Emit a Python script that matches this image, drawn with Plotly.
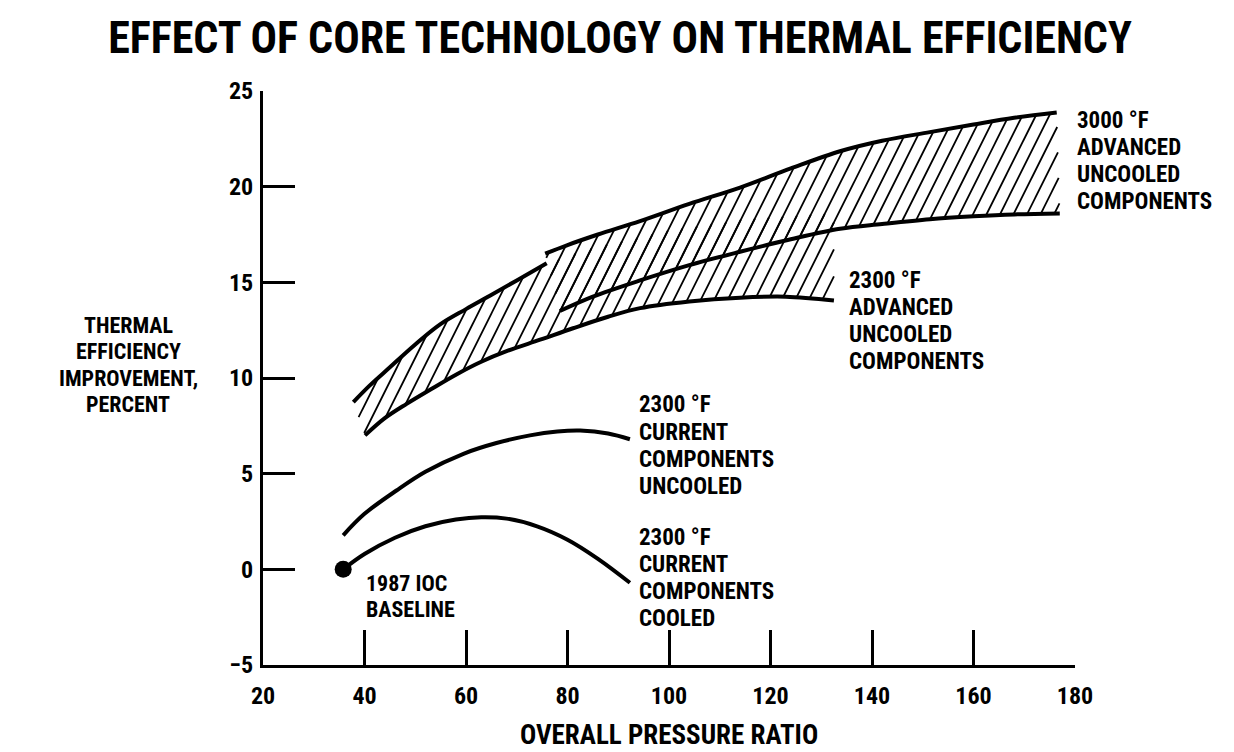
import numpy as np
import plotly.graph_objects as go

# ---------------- data ----------------
# 2300 F current components, cooled
cooled_x = [35.8, 40, 46, 52, 58, 63, 68, 74, 80, 86, 92.3]
cooled_y = [0.0, 0.8, 1.65, 2.25, 2.6, 2.72, 2.65, 2.25, 1.55, 0.55, -0.7]

# 2300 F current components, uncooled
uncooled_x = [35.8, 40, 46.3, 52, 59.5, 66, 72.6, 78, 82.5, 88, 92.3]
uncooled_y = [1.78, 2.9, 4.12, 5.1, 6.04, 6.6, 7.0, 7.2, 7.25, 7.1, 6.8]

# 2300 F advanced uncooled components band
adv2300_up_x = [37.8, 41, 45, 50, 54.9, 60, 64.7, 70, 75.9, 85, 100, 115, 132.5]
adv2300_up_y = [8.74, 9.6, 10.56, 11.75, 12.8, 13.6, 14.3, 15.1, 16.0, 16.8, 17.7, 18.3, 18.6]
adv2300_up_visible_to = 75.9
adv2300_lo_x = [40.1, 44, 48.3, 53, 58.2, 63, 68, 74.6, 81.1, 88, 94.3, 104, 114, 123, 132.5]
adv2300_lo_y = [7.0, 7.9, 8.65, 9.4, 10.2, 10.85, 11.4, 12.0, 12.6, 13.2, 13.65, 14.0, 14.2, 14.25, 14.05]

# 3000 F advanced uncooled components band
adv3000_up_x = [75.6, 80, 86, 94.3, 104, 114, 124, 133.7, 142, 151.4, 160, 168, 176.4]
adv3000_up_y = [16.5, 16.95, 17.5, 18.2, 19.1, 19.95, 20.95, 21.85, 22.4, 22.85, 23.25, 23.6, 23.88]
adv3000_lo_x = [78.5, 85, 94.3, 104, 114, 124, 133.7, 142, 151.4, 160, 168, 177]
adv3000_lo_y = [13.5, 14.25, 15.1, 15.9, 16.6, 17.25, 17.8, 18.05, 18.3, 18.45, 18.55, 18.6]

# 1987 IOC baseline point
baseline_x = [35.8]
baseline_y = [0.0]

# axes
x_ticks = [20, 40, 60, 80, 100, 120, 140, 160, 180]
y_ticks = [-5, 0, 5, 10, 15, 20, 25]
x_range = [20, 180]
y_range = [-5, 25]

# texts
title_text = "EFFECT OF CORE TECHNOLOGY ON THERMAL EFFICIENCY"
x_title = "OVERALL PRESSURE RATIO"
y_title_lines = ["THERMAL", "EFFICIENCY", "IMPROVEMENT,", "PERCENT"]
lbl_3000 = ["3000 °F", "ADVANCED", "UNCOOLED", "COMPONENTS"]
lbl_2300_adv = ["2300 °F", "ADVANCED", "UNCOOLED", "COMPONENTS"]
lbl_2300_unc = ["2300 °F", "CURRENT", "COMPONENTS", "UNCOOLED"]
lbl_2300_cool = ["2300 °F", "CURRENT", "COMPONENTS", "COOLED"]
lbl_base = ["1987 IOC", "BASELINE"]

# ---------------- layout geometry ----------------
W, H = 1234, 752
ML, MR, MT, MB = 263, 159, 91, 87
PW, PH = W - ML - MR, H - MT - MB
FONT = "Roboto Condensed, Roboto, Liberation Sans, sans-serif"


def px2paper_x(px):
    return (px - ML) / PW


def px2paper_y(py):
    return (H - MB - py) / PH


# ---------------- hatch computation ----------------
px_per_x = PW / (x_range[1] - x_range[0])
px_per_y = PH / (y_range[1] - y_range[0])
HATCH_PX_SLOPE = 2.0     # steepness in screen pixels
HATCH_PX_GAP = 13.5      # horizontal spacing in screen pixels
slope = HATCH_PX_SLOPE * px_per_x / px_per_y
gap = HATCH_PX_GAP / px_per_x


def hatch(up_x, up_y, lo_x, lo_y):
    px = list(up_x) + list(lo_x[::-1])
    py = list(up_y) + list(lo_y[::-1])
    px.append(px[0]); py.append(py[0])
    hx, hy = [], []
    for c in np.arange(-40, 200, gap):
        f = [py[i] - slope * (px[i] - c) for i in range(len(px))]
        xs = []
        for i in range(len(px) - 1):
            f0, f1 = f[i], f[i + 1]
            if (f0 > 0) != (f1 > 0):
                t = f0 / (f0 - f1)
                xs.append(px[i] + t * (px[i + 1] - px[i]))
        xs.sort()
        for j in range(0, len(xs) - 1, 2):
            for xv in (xs[j], xs[j + 1]):
                hx.append(xv); hy.append(slope * (xv - c))
            hx.append(None); hy.append(None)
    return hx, hy


fig = go.Figure()

for ux, uy, lx, ly in [(adv2300_up_x, adv2300_up_y, adv2300_lo_x, adv2300_lo_y),
                       (adv3000_up_x, adv3000_up_y, adv3000_lo_x, adv3000_lo_y)]:
    hx, hy = hatch(ux, uy, lx, ly)
    fig.add_trace(go.Scatter(x=hx, y=hy, mode="lines",
                             line=dict(color="black", width=1.8),
                             hoverinfo="skip", showlegend=False))

# visible part of 2300 advanced upper bound
vis = [i for i, xv in enumerate(adv2300_up_x) if xv <= adv2300_up_visible_to]
bound_lines = [
    ([adv2300_up_x[i] for i in vis], [adv2300_up_y[i] for i in vis]),
    (adv2300_lo_x, adv2300_lo_y),
    (adv3000_up_x, adv3000_up_y),
    (adv3000_lo_x, adv3000_lo_y),
    (uncooled_x, uncooled_y),
    (cooled_x, cooled_y),
]
for bx, by in bound_lines:
    fig.add_trace(go.Scatter(x=bx, y=by, mode="lines", line_shape="spline",
                             line=dict(color="black", width=4),
                             hoverinfo="skip", showlegend=False))

fig.add_trace(go.Scatter(x=baseline_x, y=baseline_y, mode="markers",
                         marker=dict(color="black", size=17),
                         showlegend=False))

# ---------------- annotations ----------------
ann = []


def block(lines, x_px, y0_px, pitch, anchor="left", size=23):
    for k, t in enumerate(lines):
        ann.append(dict(text=t, xref="paper", yref="paper",
                        x=px2paper_x(x_px), y=px2paper_y(y0_px + k * pitch),
                        xanchor=anchor, yanchor="middle", showarrow=False,
                        borderpad=0,
                        font=dict(family=FONT, size=size, color="black", weight="bold")))


block(lbl_3000, 1076, 120, 27.2)
block(lbl_2300_adv, 848, 280, 27.2)
block(lbl_2300_unc, 638, 405, 27.2)
block(lbl_2300_cool, 638, 537, 27.2)
block(lbl_base, 365, 583, 26.2, size=22)
block(y_title_lines, 128, 325, 26.6, anchor="center", size=22)
block([x_title], 669, 735, 0, anchor="center", size=27)

fig.update_layout(
    width=W, height=H,
    margin=dict(l=ML, r=MR, t=MT, b=MB),
    paper_bgcolor="white", plot_bgcolor="white",
    title=dict(text=title_text, x=620 / W, xanchor="center",
               y=1 - 38 / H, yanchor="middle", xref="container", yref="container",
               font=dict(family=FONT, size=44, color="black", weight="bold")),
    annotations=ann,
    showlegend=False,
)
fig.update_xaxes(range=x_range, tickvals=x_ticks, showgrid=False, zeroline=False,
                 showline=True, linecolor="black", linewidth=3,
                 ticks="inside", ticklen=35, tickwidth=3, tickcolor="black",
                 ticklabelstandoff=7,
                 tickfont=dict(family=FONT, size=24, color="black", weight="bold"))
fig.update_yaxes(range=y_range, tickvals=y_ticks, showgrid=False, zeroline=False,
                 showline=True, linecolor="black", linewidth=3,
                 ticks="inside", ticklen=32, tickwidth=3, tickcolor="black",
                 ticklabelstandoff=2,
                 tickfont=dict(family=FONT, size=24, color="black", weight="bold"))

fig.write_html("out.html", config={"displayModeBar": False},
               post_script="document.body.style.margin='0';document.body.style.padding='0';")
